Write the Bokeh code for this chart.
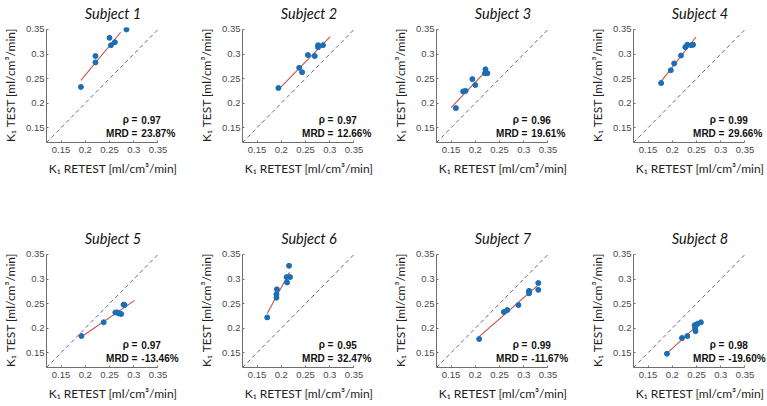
import numpy as np
from bokeh.plotting import figure
from bokeh.layouts import column, row
from bokeh.models import Label, FixedTicker, Range1d
from bokeh.embed import file_html
from bokeh.resources import INLINE

subjects = ["Subject 1", "Subject 2", "Subject 3", "Subject 4",
            "Subject 5", "Subject 6", "Subject 7", "Subject 8"]

retest_1 = [0.191, 0.221, 0.221, 0.250, 0.253, 0.261, 0.285]
test_1 = [0.233, 0.296, 0.283, 0.333, 0.318, 0.324, 0.350]
retest_2 = [0.194, 0.237, 0.243, 0.255, 0.269, 0.276, 0.276, 0.286]
test_2 = [0.231, 0.272, 0.263, 0.298, 0.296, 0.318, 0.314, 0.318]
retest_3 = [0.160, 0.175, 0.180, 0.194, 0.200, 0.221, 0.220, 0.225]
test_3 = [0.190, 0.224, 0.225, 0.249, 0.237, 0.269, 0.261, 0.261]
retest_4 = [0.177, 0.197, 0.204, 0.218, 0.227, 0.231, 0.239, 0.243]
test_4 = [0.241, 0.267, 0.281, 0.297, 0.314, 0.319, 0.318, 0.319]
retest_5 = [0.192, 0.238, 0.262, 0.266, 0.269, 0.274, 0.279, 0.281]
test_5 = [0.184, 0.212, 0.232, 0.232, 0.230, 0.229, 0.248, 0.247]
retest_6 = [0.171, 0.190, 0.190, 0.191, 0.211, 0.212, 0.216, 0.218]
test_6 = [0.222, 0.262, 0.269, 0.279, 0.304, 0.293, 0.327, 0.304]
retest_7 = [0.208, 0.259, 0.266, 0.289, 0.311, 0.311, 0.311, 0.330, 0.330]
test_7 = [0.178, 0.233, 0.237, 0.247, 0.274, 0.276, 0.271, 0.292, 0.278]
retest_8 = [0.189, 0.220, 0.231, 0.246, 0.247, 0.248, 0.250, 0.252, 0.259]
test_8 = [0.148, 0.180, 0.184, 0.206, 0.199, 0.194, 0.207, 0.209, 0.212]

retest_all = [retest_1, retest_2, retest_3, retest_4, retest_5, retest_6, retest_7, retest_8]
test_all = [test_1, test_2, test_3, test_4, test_5, test_6, test_7, test_8]

fit_start = [0.191, 0.195, 0.150, 0.175, 0.190, 0.171, 0.208, 0.189]
fit_end = [0.273, 0.301, 0.216, 0.249, 0.302, 0.217, 0.329, 0.255]

rho_vals = ["0.97", "0.97", "0.96", "0.99", "0.97", "0.95", "0.99", "0.98"]
mrd_vals = ["23.87%", "12.66%", "19.61%", "29.66%", "-13.46%", "32.47%", "-11.67%", "-19.60%"]

tick_vals = [0.15, 0.2, 0.25, 0.3, 0.35]
tick_labels = ["0.15", "0.2", "0.25", "0.3", "0.35"]
axis_lo, axis_hi = 0.12, 0.35

x_title = "K\u2081 RETEST [ml/cm\u00b3/min]"
y_title = "K\u2081 TEST [ml/cm\u00b3/min]"

# layout (pixels)
col_widths = [196, 194, 197, 179]
row_heights = [225, 179]
LEFT = 43
FRAME_W = 136
TOP = 26
FRAME_H = 116
PX_PER_UNIT = 114 / (axis_hi - axis_lo)
y_view_hi = axis_lo + FRAME_H / PX_PER_UNIT

AX_COL = "#6e6e6e"
TICK_COL = "#4a4a4a"
LABEL_FONT = "Lato"
STAT_FONT = "Liberation Sans"


def make_panel(i):
    r, c = divmod(i, 4)
    w = col_widths[c]
    h = row_heights[r]
    x_view_hi = axis_lo + FRAME_W / PX_PER_UNIT
    p = figure(width=w, height=h,
               output_backend="svg", toolbar_location=None,
               x_range=Range1d(axis_lo, x_view_hi), y_range=Range1d(axis_lo, y_view_hi),
               min_border_left=LEFT, min_border_right=w - LEFT - FRAME_W,
               min_border_top=TOP, min_border_bottom=h - TOP - FRAME_H,
               title=subjects[i])
    p.title.align = "center"
    p.title.vertical_align = "top"
    p.title.text_font = LABEL_FONT
    p.title.text_font_style = "italic"
    p.title.text_font_size = "14.5px"
    p.title.text_color = "#111111"
    p.title.standoff = 8
    p.outline_line_color = None
    p.grid.visible = False
    p.background_fill_color = "white"
    p.border_fill_color = "white"

    overrides = {v: t for v, t in zip(tick_vals, tick_labels)}
    for ax in (p.xaxis[0], p.yaxis[0]):
        ax.ticker = FixedTicker(ticks=tick_vals)
        ax.bounds = (axis_lo, axis_hi)
        ax.major_label_overrides = overrides
        ax.axis_line_color = AX_COL
        ax.major_tick_line_color = AX_COL
        ax.major_tick_in = 2
        ax.major_tick_out = 0
        ax.minor_tick_line_color = None
        ax.major_label_text_font = "Liberation Sans"
        ax.major_label_text_font_size = "9.5px"
        ax.major_label_text_color = TICK_COL
        ax.axis_label_text_font = LABEL_FONT
        ax.axis_label_text_font_style = "normal"
        ax.axis_label_text_font_size = "12px"
        ax.axis_label_text_color = "#222222"
    p.xaxis.major_label_standoff = 4
    p.xaxis.axis_label_standoff = 5
    p.yaxis.major_label_standoff = 2
    p.yaxis.axis_label_standoff = 5
    p.xaxis.axis_label = x_title
    p.yaxis.axis_label = y_title

    # identity line
    p.line([axis_lo, axis_hi], [axis_lo, axis_hi], line_color="#6262a6",
           line_dash="4 3", line_width=1)

    xs = np.array(retest_all[i])
    ys = np.array(test_all[i])
    k, b = np.polyfit(xs, ys, 1)
    fx = np.array([fit_start[i], fit_end[i]])
    p.line(fx, k * fx + b, line_color="#c9524c", line_width=1.1)

    p.scatter(xs, ys, size=5, fill_color="#1b6db5", line_color="#1b6db5")

    lab_x = axis_lo + 93 / PX_PER_UNIT
    val_x = axis_lo + 97 / PX_PER_UNIT
    for y, lab, val in ((0.166, "\u03c1 =", rho_vals[i]), (0.138, "MRD =", mrd_vals[i])):
        p.add_layout(Label(x=lab_x, y=y, text=lab, text_align="right",
                           text_baseline="middle", text_font=STAT_FONT,
                           text_font_size="10px", text_font_style="bold",
                           text_color="#111111"))
        p.add_layout(Label(x=val_x, y=y, text=val, text_align="left",
                           text_baseline="middle", text_font=STAT_FONT,
                           text_font_size="10px", text_font_style="bold",
                           text_color="#111111"))
    return p


panels = [make_panel(i) for i in range(8)]
layout = column(row(*panels[:4], spacing=0), row(*panels[4:], spacing=0), spacing=0)

open("out.html", "w").write(file_html(layout, INLINE))
